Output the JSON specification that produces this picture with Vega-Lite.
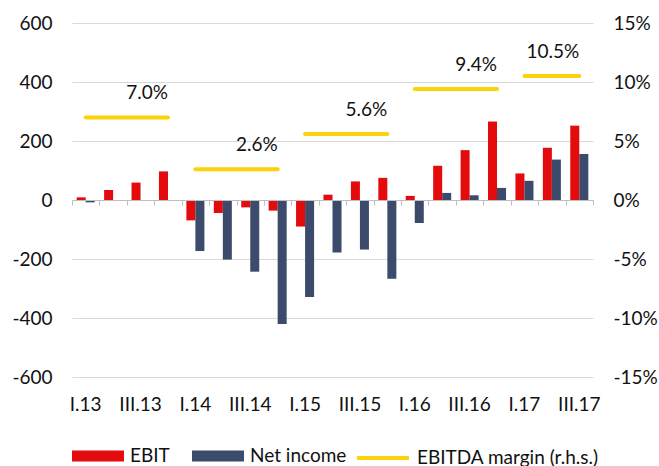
{
  "$schema": "https://vega.github.io/schema/vega-lite/v6.json",
  "width": 521,
  "height": 354,
  "autosize": {"type": "none"},
  "padding": {"left": 72, "top": 23, "right": 66, "bottom": 89},
  "config": {
    "font": "Lato",
    "view": {"stroke": null},
    "axis": {"labelFontSize": 19, "labelColor": "#111111", "labelFont": "Lato"},
    "legend": {"labelFontSize": 19, "labelColor": "#111111", "labelFont": "Lato", "labelLimit": 400}
  },
  "title": {"text": "billion", "anchor": "start", "frame": "bounds", "fontSize": 24, "fontWeight": "bold", "color": "#111111", "offset": 16, "baseline": "alphabetic"},
  "datasets": {
    "bars": [
      {"quarter": "I.13", "series": "EBIT", "value": 9},
      {"quarter": "II.13", "series": "EBIT", "value": 34},
      {"quarter": "III.13", "series": "EBIT", "value": 59},
      {"quarter": "IV.13", "series": "EBIT", "value": 97},
      {"quarter": "I.14", "series": "EBIT", "value": -69},
      {"quarter": "II.14", "series": "EBIT", "value": -44},
      {"quarter": "III.14", "series": "EBIT", "value": -25},
      {"quarter": "IV.14", "series": "EBIT", "value": -36},
      {"quarter": "I.15", "series": "EBIT", "value": -90},
      {"quarter": "II.15", "series": "EBIT", "value": 18},
      {"quarter": "III.15", "series": "EBIT", "value": 63},
      {"quarter": "IV.15", "series": "EBIT", "value": 75},
      {"quarter": "I.16", "series": "EBIT", "value": 14},
      {"quarter": "II.16", "series": "EBIT", "value": 116},
      {"quarter": "III.16", "series": "EBIT", "value": 169},
      {"quarter": "IV.16", "series": "EBIT", "value": 266},
      {"quarter": "I.17", "series": "EBIT", "value": 90},
      {"quarter": "II.17", "series": "EBIT", "value": 177},
      {"quarter": "III.17", "series": "EBIT", "value": 252},
      {"quarter": "I.13", "series": "Net income", "value": -8},
      {"quarter": "II.13", "series": "Net income", "value": -2},
      {"quarter": "III.13", "series": "Net income", "value": 0},
      {"quarter": "IV.13", "series": "Net income", "value": 0},
      {"quarter": "I.14", "series": "Net income", "value": -173},
      {"quarter": "II.14", "series": "Net income", "value": -202},
      {"quarter": "III.14", "series": "Net income", "value": -243},
      {"quarter": "IV.14", "series": "Net income", "value": -420},
      {"quarter": "I.15", "series": "Net income", "value": -329},
      {"quarter": "II.15", "series": "Net income", "value": -178},
      {"quarter": "III.15", "series": "Net income", "value": -168},
      {"quarter": "IV.15", "series": "Net income", "value": -267},
      {"quarter": "I.16", "series": "Net income", "value": -78},
      {"quarter": "II.16", "series": "Net income", "value": 24},
      {"quarter": "III.16", "series": "Net income", "value": 16},
      {"quarter": "IV.16", "series": "Net income", "value": 41},
      {"quarter": "I.17", "series": "Net income", "value": 65},
      {"quarter": "II.17", "series": "Net income", "value": 137},
      {"quarter": "III.17", "series": "Net income", "value": 156}
    ],
    "margin": [
      {"quarter": "I.13", "year": "2013", "margin": 0.07},
      {"quarter": "II.13", "year": "2013", "margin": 0.07},
      {"quarter": "III.13", "year": "2013", "margin": 0.07},
      {"quarter": "IV.13", "year": "2013", "margin": 0.07},
      {"quarter": "I.14", "year": "2014", "margin": 0.026},
      {"quarter": "II.14", "year": "2014", "margin": 0.026},
      {"quarter": "III.14", "year": "2014", "margin": 0.026},
      {"quarter": "IV.14", "year": "2014", "margin": 0.026},
      {"quarter": "I.15", "year": "2015", "margin": 0.056},
      {"quarter": "II.15", "year": "2015", "margin": 0.056},
      {"quarter": "III.15", "year": "2015", "margin": 0.056},
      {"quarter": "IV.15", "year": "2015", "margin": 0.056},
      {"quarter": "I.16", "year": "2016", "margin": 0.094},
      {"quarter": "II.16", "year": "2016", "margin": 0.094},
      {"quarter": "III.16", "year": "2016", "margin": 0.094},
      {"quarter": "IV.16", "year": "2016", "margin": 0.094},
      {"quarter": "I.17", "year": "2017", "margin": 0.105},
      {"quarter": "II.17", "year": "2017", "margin": 0.105},
      {"quarter": "III.17", "year": "2017", "margin": 0.105}
    ],
    "labels": [
      {"quarter": "IV.13", "year": "2013", "margin": 0.07},
      {"quarter": "IV.14", "year": "2014", "margin": 0.026},
      {"quarter": "IV.15", "year": "2015", "margin": 0.056},
      {"quarter": "IV.16", "year": "2016", "margin": 0.094},
      {"quarter": "III.17", "year": "2017", "margin": 0.105}
    ]
  },
  "layer": [
    {
      "data": {"name": "bars"},
      "mark": {"type": "bar"},
      "encoding": {
        "x": {
          "field": "quarter", "type": "nominal",
          "scale": {"type": "band", "domain": ["I.13","II.13","III.13","IV.13","I.14","II.14","III.14","IV.14","I.15","II.15","III.15","IV.15","I.16","II.16","III.16","IV.16","I.17","II.17","III.17"], "paddingInner": 0, "paddingOuter": 0},
          "axis": {"orient": "bottom", "offset": -177, "labels": false, "domain": true, "domainColor": "#bfbfbf", "domainWidth": 1, "ticks": true, "tickBand": "extent", "tickSize": 5, "tickColor": "#bfbfbf", "grid": false, "title": null, "zindex": 1}
        },
        "xOffset": {"field": "series", "type": "nominal", "scale": {"domain": ["EBIT", "Net income"], "paddingInner": 0, "paddingOuter": 0.52}},
        "y": {
          "field": "value", "type": "quantitative",
          "scale": {"domain": [-600, 600], "nice": false, "zero": false},
          "axis": {"orient": "left", "values": [-600, -400, -200, 0, 200, 400, 600], "grid": true, "gridColor": "#d9d9d9", "domain": false, "ticks": false, "labelPadding": 20, "title": null, "labelExpr": "replace(datum.label, '−', '-')"}
        },
        "fill": {
          "field": "series", "type": "nominal",
          "scale": {"domain": ["EBIT", "Net income"], "range": ["#e30b0b", "#3c4a6c"]},
          "legend": {"orient": "bottom", "direction": "horizontal", "title": null, "symbolType": "M-1,-0.21H1V0.21H-1Z", "symbolSize": 2704, "symbolStrokeWidth": 0, "labelOffset": 6, "columnPadding": 22, "offset": 16}
        }
      }
    },
    {
      "layer": [
        {
          "data": {"name": "margin"},
          "mark": {"type": "line", "strokeWidth": 4, "strokeCap": "round"},
          "encoding": {
            "x": {
              "field": "quarter", "type": "nominal",
              "scale": {"type": "band", "domain": ["I.13","II.13","III.13","IV.13","I.14","II.14","III.14","IV.14","I.15","II.15","III.15","IV.15","I.16","II.16","III.16","IV.16","I.17","II.17","III.17"], "paddingInner": 0, "paddingOuter": 0},
              "axis": {"orient": "bottom", "values": ["I.13","III.13","I.14","III.14","I.15","III.15","I.16","III.16","I.17","III.17"], "domain": false, "ticks": false, "grid": false, "labelPadding": 18, "labelAngle": 0, "title": null}
            },
            "y": {
              "field": "margin", "type": "quantitative",
              "scale": {"domain": [-0.15, 0.15], "nice": false, "zero": false},
              "axis": {"orient": "right", "values": [-0.15, -0.1, -0.05, 0, 0.05, 0.1, 0.15], "format": ".0%", "grid": false, "domain": false, "ticks": false, "labelPadding": 20, "title": null, "labelExpr": "replace(datum.label, '−', '-')"}
            },
            "detail": {"field": "year", "type": "nominal"},
            "stroke": {
              "datum": "EBITDA margin (r.h.s.)", "type": "nominal",
              "scale": {"range": ["#fdd20a"]},
              "legend": {"orient": "bottom", "direction": "horizontal", "title": null, "symbolType": "stroke", "symbolSize": 2704, "symbolStrokeWidth": 4, "labelOffset": 6, "offset": 16}
            }
          }
        },
        {
          "data": {"name": "labels"},
          "mark": {"type": "text", "align": "right", "baseline": "alphabetic", "dy": -18, "dx": 0, "fontSize": 19, "color": "#111111"},
          "encoding": {
            "x": {
              "field": "quarter", "type": "nominal",
              "scale": {"type": "band", "domain": ["I.13","II.13","III.13","IV.13","I.14","II.14","III.14","IV.14","I.15","II.15","III.15","IV.15","I.16","II.16","III.16","IV.16","I.17","II.17","III.17"], "paddingInner": 0, "paddingOuter": 0},
              "axis": {"orient": "bottom", "values": ["I.13","III.13","I.14","III.14","I.15","III.15","I.16","III.16","I.17","III.17"], "domain": false, "ticks": false, "grid": false, "labelPadding": 18, "labelAngle": 0, "title": null}
            },
            "y": {
              "field": "margin", "type": "quantitative",
              "scale": {"domain": [-0.15, 0.15], "nice": false, "zero": false},
              "axis": {"orient": "right", "values": [-0.15, -0.1, -0.05, 0, 0.05, 0.1, 0.15], "format": ".0%", "grid": false, "domain": false, "ticks": false, "labelPadding": 20, "title": null, "labelExpr": "replace(datum.label, '−', '-')"}
            },
            "text": {"field": "margin", "type": "quantitative", "format": ".1%"}
          }
        }
      ]
    }
  ],
  "resolve": {"scale": {"y": "independent"}, "axis": {"x": "independent", "y": "independent"}}
}
